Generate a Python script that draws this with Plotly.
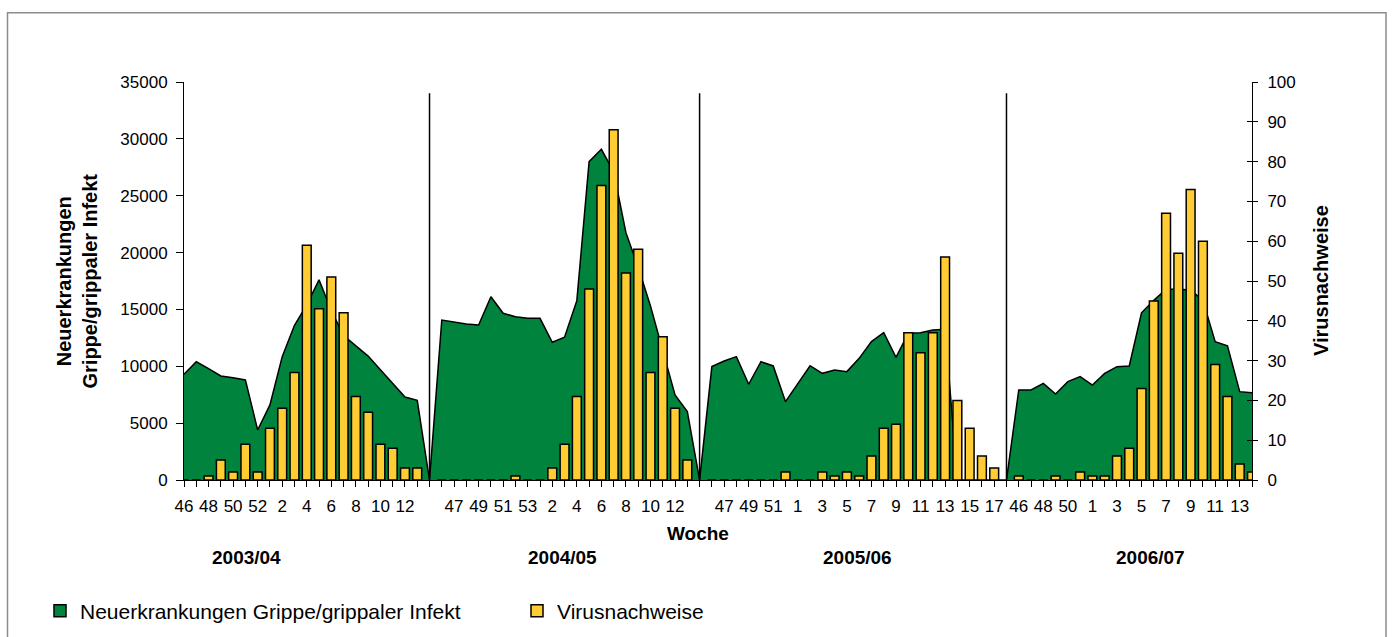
import plotly.graph_objects as go

# ---- data -------------------------------------------------------------
season_names = ["2003/04", "2004/05", "2005/06", "2006/07"]

weeks_0304 = [46, 47, 48, 49, 50, 51, 52, 1, 2, 3, 4, 5, 6, 7, 8, 9, 10, 11, 12, 13]
ili_0304 = [9300, 10400, 9800, 9150, 9000, 8800, 4400, 6600, 10850, 13600,
            15400, 17600, 14900, 12700, 11800, 10900, 9700, 8500, 7300, 7000]
virus_0304 = [0, 0, 1, 5, 2, 9, 2, 13, 18, 27, 59, 43, 51, 42, 21, 17, 9, 8, 3, 3]

weeks_0405 = [46, 47, 48, 49, 50, 51, 52, 53, 1, 2, 3, 4, 5, 6, 7, 8, 9, 10, 11, 12, 13]
ili_0405 = [14070, 13870, 13720, 13630, 16120, 14660, 14360, 14220, 14220, 12110,
            12550, 15770, 27990, 29080, 27100, 21750, 18700, 15300, 11400, 7480, 6010]
virus_0405 = [0, 0, 0, 0, 0, 0, 1, 0, 0, 3, 9, 21, 48, 74, 88, 52, 58, 27, 36, 18, 5]

weeks_0506 = [46, 47, 48, 49, 50, 51, 52, 1, 2, 3, 4, 5, 6, 7, 8, 9, 10, 11, 12,
              13, 14, 15, 16, 17]
ili_0506 = [9970, 10460, 10850, 8420, 10400, 10030, 6890, 8500, 10050, 9380,
            9670, 9530, 10700, 12170, 12960, 10790, 12900, 12960, 13190, 13250,
            0, 0, 0, 0]
virus_0506 = [0, 0, 0, 0, 0, 0, 2, 0, 0, 2, 1, 2, 1, 6, 13, 14, 37, 32, 37, 56,
              20, 13, 6, 3]

weeks_0607 = [46, 47, 48, 49, 50, 51, 1, 2, 3, 4, 5, 6, 7, 8, 9, 10, 11, 12, 13, 14]
ili_0607 = [7920, 7920, 8500, 7560, 8650, 9090, 8350, 9380, 9970, 10030,
            14700, 15800, 16770, 16770, 16700, 15800, 12170, 11800, 7770, 7680]
virus_0607 = [1, 0, 0, 1, 0, 2, 1, 1, 6, 8, 23, 45, 67, 57, 73, 60, 29, 21, 4, 2]

seasons = [
    (weeks_0304, ili_0304, virus_0304),
    (weeks_0405, ili_0405, virus_0405),
    (weeks_0506, ili_0506, virus_0506),
    (weeks_0607, ili_0607, virus_0607),
]

# ---- one continuous category axis, an empty slot between seasons ------
pos, area_y, bar_y, tick_text, gap_pos = [], [], [], [], []
for k, (weeks, ili, virus) in enumerate(seasons):
    if k > 0:
        gap_pos.append(len(pos))
        pos.append(len(pos))
        area_y.append(0)
        bar_y.append(None)
        tick_text.append("")
    for w, a, v in zip(weeks, ili, virus):
        tick_text.append(str(w) if len(pos) % 2 == 0 else "")
        pos.append(len(pos))
        area_y.append(a)
        bar_y.append(v)

GREEN = "#00843D"
YELLOW = "#FFCC33"
FONT = "Liberation Sans, Arial, sans-serif"
LABEL_ILI = "Neuerkrankungen Grippe/grippaler Infekt"
LABEL_VIRUS = "Virusnachweise"

# plot area in pixels (used to convert pixel offsets to paper fractions)
W, H = 1392, 637
PLOT_L, PLOT_W, PLOT_B, PLOT_H = 184, 1068, 480, 398


def px_x(px):
    return (px - PLOT_L) / PLOT_W


def px_y(py):
    return (PLOT_B - py) / PLOT_H


fig = go.Figure()

fig.add_trace(go.Scatter(
    x=pos, y=area_y, mode="lines", fill="tozeroy",
    fillcolor=GREEN, line=dict(color="black", width=1.5),
    name=LABEL_ILI, showlegend=False, yaxis="y",
))
# legend swatch for the area series
fig.add_trace(go.Bar(
    x=[None], y=[None], name=LABEL_ILI, yaxis="y",
    marker=dict(color=GREEN, line=dict(color="black", width=1.5)),
))
fig.add_trace(go.Bar(
    x=pos, y=bar_y, width=0.72, name=LABEL_VIRUS, yaxis="y2",
    marker=dict(color=YELLOW, line=dict(color="black", width=1.5)),
))
# inner half of the right axis ticks
fig.add_trace(go.Scatter(x=[None], y=[None], yaxis="y3", showlegend=False,
                         hoverinfo="skip"))

shapes = []
for g in gap_pos:
    shapes.append(dict(type="line", xref="x", yref="paper", x0=g, x1=g,
                       y0=0, y1=0.972, line=dict(color="black", width=1.5),
                       layer="above"))
# outer frame
shapes.append(dict(type="rect", xref="paper", yref="paper",
                   x0=px_x(7.5), x1=px_x(1386), y0=px_y(643), y1=px_y(12.7),
                   line=dict(color="#8c8c8c", width=1.5), layer="below"))

season_x = [5.1, 30.8, 54.9, 78.7]
annotations = [
    dict(text="<b>%s</b>" % s, x=sx, xref="x", y=px_y(557), yref="paper",
         xanchor="center", yanchor="middle", showarrow=False,
         font=dict(size=19, color="black", family=FONT))
    for s, sx in zip(season_names, season_x)
]
annotations += [
    dict(text="<b>Woche</b>", x=px_x(698), xref="paper", y=px_y(533), yref="paper",
         xanchor="center", yanchor="middle", showarrow=False,
         font=dict(size=19, color="black", family=FONT)),
    dict(text="<b>Neuerkrankungen<br>Grippe/grippaler Infekt</b>", x=px_x(76.5),
         xref="paper", y=0.5, yref="paper", xanchor="center", yanchor="middle",
         textangle=-90, showarrow=False,
         font=dict(size=20, color="black", family=FONT)),
    dict(text="<b>Virusnachweise</b>", x=px_x(1321), xref="paper", y=0.5,
         yref="paper", xanchor="center", yanchor="middle", textangle=-90,
         showarrow=False, font=dict(size=20, color="black", family=FONT)),
]

fig.update_layout(
    width=W, height=H,
    margin=dict(l=PLOT_L, r=W - PLOT_L - PLOT_W, t=PLOT_B - PLOT_H,
                b=H - PLOT_B, autoexpand=False),
    paper_bgcolor="white", plot_bgcolor="white",
    font=dict(family=FONT, size=17, color="black"),
    barmode="overlay",
    xaxis=dict(range=[0, len(pos) - 1], tickmode="array", tickvals=pos,
               ticktext=tick_text, ticks="outside", ticklen=6, tickcolor="black",
               showline=True, linecolor="black", linewidth=1, showgrid=False,
               zeroline=False, tickangle=0, tickfont=dict(size=17),
               ticklabelstandoff=5),
    yaxis=dict(range=[0, 35000], dtick=5000, tickformat="d", ticks="outside",
               ticklen=7, tickcolor="black", showline=True, linecolor="black",
               linewidth=1, showgrid=False, zeroline=False,
               tickfont=dict(size=17), ticklabelstandoff=5),
    yaxis2=dict(range=[0, 100], dtick=10, overlaying="y", side="right",
                ticks="outside", ticklen=5, tickcolor="black", showline=True,
                linecolor="black", linewidth=1, showgrid=False, zeroline=False,
                tickfont=dict(size=17), ticklabelstandoff=6),
    yaxis3=dict(range=[0, 100], dtick=10, overlaying="y", side="right",
                ticks="inside", ticklen=5, tickcolor="black", showline=False,
                showgrid=False, zeroline=False, showticklabels=False),
    legend=dict(orientation="h", x=px_x(40), xanchor="left",
                y=px_y(611), yanchor="middle", entrywidth=432,
                font=dict(size=21, family=FONT), traceorder="normal"),
    shapes=shapes,
    annotations=annotations,
    showlegend=True,
)

fig.write_html("out.html")
